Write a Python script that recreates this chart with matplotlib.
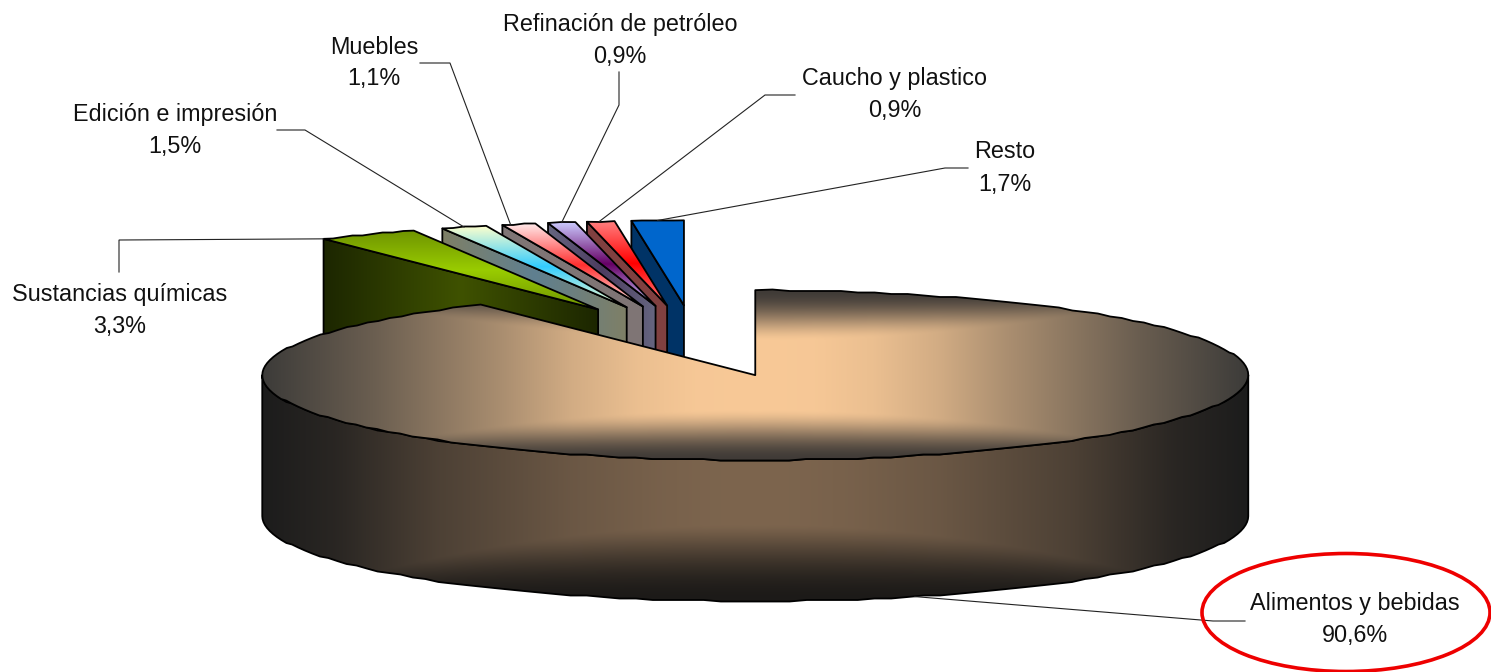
import numpy as np
import matplotlib
matplotlib.use('Agg')
import matplotlib.pyplot as plt
from matplotlib.colors import to_rgb
from matplotlib.patches import Ellipse, Polygon

plt.rcParams['font.family'] = ['Liberation Sans', 'DejaVu Sans']

# Datos (orden horario desde las 12)
categorias = ['Alimentos y bebidas', 'Sustancias químicas', 'Edición e impresión',
              'Muebles', 'Refinación de petróleo', 'Caucho y plastico', 'Resto']
valores = [90.6, 3.3, 1.5, 1.1, 0.9, 0.9, 1.7]
etiquetas = ['90,6%', '3,3%', '1,5%', '1,1%', '0,9%', '0,9%', '1,7%']

# Colores de las porciones: (borde, centro) de la tapa y de la pared
tapa_colores = [None,
                ('#6f9400', '#99cc00'), ('#ffffcc', '#33ccff'), ('#ffeaea', '#ff3030'),
                ('#ccccff', '#660066'), ('#ff8080', '#ff0000'), ('#0066cc', '#0066cc')]
pared_colores = [None,
                 ('#1c2600', '#3f5200'), ('#7f7f66', '#5f8090'), ('#7f7575', '#7f7575'),
                 ('#666680', '#4c3c60'), ('#804040', '#804040'), ('#003366', '#003366')]

# Geometría en píxeles de la imagen
W, H = 1491, 672
CX, CY = 695.0, 341.0     # centro sin explotar
RX, RY = 493.0, 85.0
ALTO = 141.0
EXPLOSION = 0.42

# (x, y) del centro de cada bloque de texto, codo de cada línea guía
# y punto del arco (0-1) donde llega la guía
pos_texto = [(1355, 619.5), (120, 310), (175, 131), (374, 63), (620, 40), (895, 94), (1005, 168)]
lineas = [[(1245, 621), (1213, 621)], [(119, 272), (119, 240)], [(277, 130), (305, 130)],
          [(420, 63), (450, 63)], [(619, 72), (619, 105)], [(795, 95), (765, 95)],
          [(968, 168), (945, 168)]]
guia_frac = [0.494, 0.0, 0.5, 0.25, 0.5, 0.45, 0.5]


def punto(cx, cy, ang):
    a = np.radians(ang)
    return cx + RX * np.sin(a), cy - RY * np.cos(a)


def arco(cx, cy, a0, a1, paso=2.0, rejilla=1.5):
    # el original tiene bordes algo ondulados: se redondea y a una rejilla gruesa
    n = max(2, int(abs(a1 - a0) / paso) + 1)
    angs = np.linspace(a0, a1, n)
    xs, ys = punto(cx, cy, angs)
    ys = np.round(ys / rejilla) * rejilla
    ys[0], ys[-1] = punto(cx, cy, np.array([a0, a1]))[1]
    return np.column_stack([xs, ys])


def mezcla(c0, c1, t):
    c0 = np.array(to_rgb(c0))
    c1 = np.array(to_rgb(c1))
    return c0 + (c1 - c0) * t[..., None]


def suave(x):
    return x * x * (3 - 2 * x)


def relleno(ax, verts, rgb_func, z):
    # pinta un degradado recortado por el polígono y luego su contorno
    verts = np.asarray(verts)
    x0, y0 = np.floor(verts.min(axis=0))
    x1, y1 = np.ceil(verts.max(axis=0))
    X, Y = np.meshgrid(np.arange(x0, x1) + 0.5, np.arange(y0, y1) + 0.5)
    im = ax.imshow(rgb_func(X, Y), extent=(x0, x1, y1, y0), origin='upper',
                   aspect='auto', interpolation='bilinear', zorder=z)
    pol = Polygon(verts, closed=True, fc='none', ec='black', lw=1.3, zorder=z + 0.1, joinstyle='round')
    ax.add_patch(pol)
    im.set_clip_path(pol)


fig = plt.figure(figsize=(W / 100, H / 100), dpi=100)
ax = fig.add_axes([0, 0, 1, 1])

# Ángulos y centros explotados
fin = np.cumsum(valores) / np.sum(valores) * 360
ini = np.concatenate([[0], fin[:-1]])
medio = (ini + fin) / 2
apex = [(CX + EXPLOSION * RX * np.sin(np.radians(m)), CY - EXPLOSION * RY * np.cos(np.radians(m)))
        for m in medio]

# Porciones pequeñas, de atrás hacia delante
for i in range(len(valores) - 1, 0, -1):
    ax_, ay_ = apex[i]
    ex, ey = punto(ax_, ay_, ini[i])
    pared = [(ax_, ay_), (ex, ey), (ex, ey + ALTO), (ax_, ay_ + ALTO)]
    xm0, xm1 = min(ex, ax_), max(ex, ax_)

    def f_pared(X, Y, xm0=xm0, xm1=xm1, c=pared_colores[i]):
        t = 1 - np.abs(X - (xm0 + xm1) / 2) / ((xm1 - xm0) / 2)
        return mezcla(c[0], c[1], np.clip(t, 0, 1))
    relleno(ax, pared, f_pared, 2 + (7 - i))

    tapa = np.vstack([[(ax_, ay_)], arco(ax_, ay_, ini[i], fin[i], paso=1.2, rejilla=1.5)])

    def f_tapa(X, Y, y0=tapa[:, 1].min(), y1=tapa[:, 1].max(), c=tapa_colores[i]):
        t = 1 - np.abs(Y - (y0 + y1) / 2) / ((y1 - y0) / 2)
        return mezcla(c[0], c[1], np.clip(t, 0, 1))
    relleno(ax, tapa, f_tapa, 2.5 + (7 - i))

# Porción principal: pared exterior
mx, my = apex[0]
borde_sup = arco(mx, my, 90, 270)
borde_inf = arco(mx, my + ALTO, 270, 90)


def f_pared_main(X, Y):
    h = np.abs(X - mx) / RX
    t = np.interp(h, [0, 0.1, 0.2, 0.375, 0.645, 0.85, 1], [0, 0.015, 0.06, 0.19, 0.5, 0.86, 1])
    base = mezcla('#7d654e', '#1c1c1c', t)
    dy = Y - (my + ALTO)
    a = 8 + 33 * (np.abs(X - mx) / 318) ** 2
    s = suave(np.clip((dy - a) / np.maximum(RY - a, 1), 0, 1) ** 0.7)
    oscuro = np.array(to_rgb('#1c1a18'))
    return base + (oscuro - base) * s[..., None]


relleno(ax, np.vstack([borde_sup, borde_inf]), f_pared_main, 20)

# Porción principal: tapa
tapa_main = np.vstack([[(mx, my)], arco(mx, my, ini[0], fin[0])])


def f_tapa_main(X, Y):
    h = np.abs(X - mx) / RX
    t = np.interp(h, [0, 0.12, 0.24, 0.37, 0.51, 0.78, 1], [0, 0.01, 0.07, 0.2, 0.41, 0.76, 1])
    base = mezcla('#f8c997', '#3c3b39', t)
    a = 34 + 25 * (np.abs(X - mx) / 320) ** 2
    s = suave(np.clip((np.abs(Y - my) - a) / np.maximum(RY - a, 1), 0, 1) ** 0.85)
    oscuro = np.array(to_rgb('#403b37'))
    return base + (oscuro - base) * s[..., None]


relleno(ax, tapa_main, f_tapa_main, 21)

# Líneas guía y textos
for i in range(len(valores)):
    ang_guia = ini[i] + (fin[i] - ini[i]) * guia_frac[i]
    if i == 0:
        ex, ey = punto(mx, my + ALTO, ang_guia)
    else:
        ex, ey = punto(apex[i][0], apex[i][1], ang_guia)
    pts = lineas[i] + [(ex, ey)]
    ax.plot([p[0] for p in pts], [p[1] for p in pts], color='#222222', lw=0.8,
            solid_joinstyle='miter', zorder=30)
    ax.text(pos_texto[i][0], pos_texto[i][1], categorias[i] + '\n' + etiquetas[i],
            ha='center', va='center', fontsize=16.8, color='#111111',
            linespacing=1.5, zorder=32)

# Óvalo rojo que resalta la categoría principal
ax.add_patch(Ellipse((1346, 612.5), 288, 118, fc='none', ec='#ee0000', lw=2.6, zorder=31))

ax.set_xlim(0, W)
ax.set_ylim(H, 0)
ax.axis('off')
fig.savefig('out.png', dpi=100, facecolor='white')
